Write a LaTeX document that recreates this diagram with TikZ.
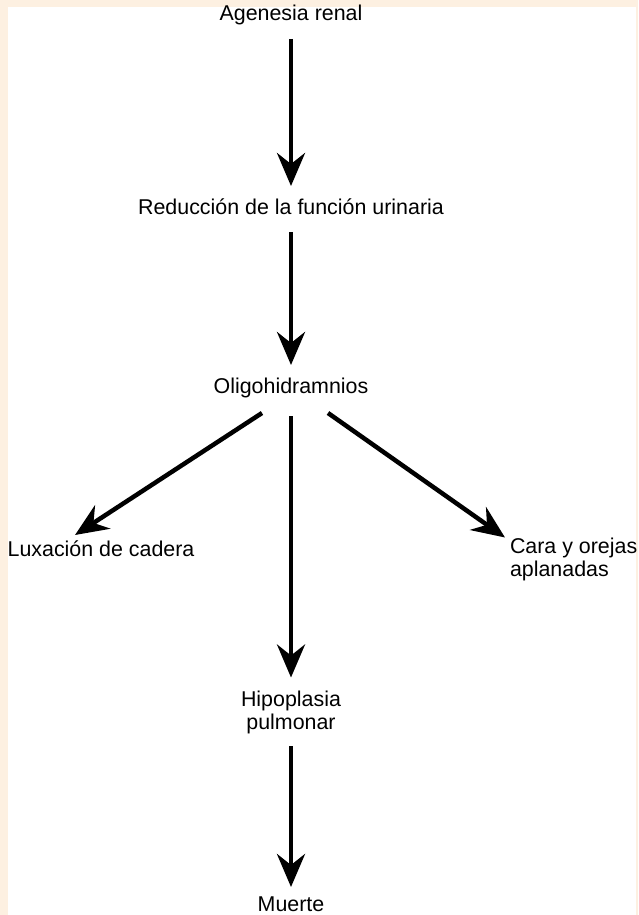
\documentclass[tikz,border=0pt]{standalone}
\usepackage{fontspec}
\setmainfont{Liberation Sans}
\usepackage{tikz}
\usetikzlibrary{arrows.meta, positioning, calc}
\definecolor{fondocrema}{HTML}{FDF0E1}

\begin{document}
\begin{tikzpicture}[
  x=1pt, y=-1pt,
  every node/.style={inner sep=0pt, outer sep=0pt, font=\fontsize{21.4}{23}\selectfont},
  paso/.style={anchor=base, text height=15pt, text depth=5pt},
  pasodoble/.style={anchor=base, align=center},
  flecha/.style={line width=4.5pt, -{Stealth[length=33pt, width=28pt, inset=11pt]}},
  flechav/.style={flecha, shorten <=13pt, shorten >=13pt}
]
\fill[fondocrema] (0,0) rectangle (638,915);
\fill[white] (8,7) rectangle (636,915);
\useasboundingbox (0,0) rectangle (638,915);

\node[paso] (agenesia) at (291,21) {Agenesia renal};
\node[paso] (reduccion) at (291,214) {Reducción de la función urinaria};
\node[paso] (oligo) at (291,393) {Oligohidramnios};
\node[paso] (luxacion) at (101,556) {Luxación de cadera};
\node[anchor=base west, align=left] (cara) at (510,576) {Cara y orejas\\aplanadas};
\node[pasodoble] (hipoplasia) at (291,729) {Hipoplasia\\pulmonar};
\node[paso] (muerte) at (291,911) {Muerte};

\draw[flechav] (agenesia.south) -- (reduccion.north);
\draw[flechav] (reduccion.south) -- (oligo.north);
\draw[flechav, shorten <=18pt] (oligo.south) -- (hipoplasia.north);
\draw[flechav, shorten >=9pt] (hipoplasia.south) -- (muerte.north);
\draw[flecha] ([shift={(-29,15)}]oligo.south) -- ([shift={(-26,-6)}]luxacion.north);
\draw[flecha] ([shift={(37,15)}]oligo.south) -- ([xshift=-5pt]cara.north west);
\end{tikzpicture}
\end{document}
